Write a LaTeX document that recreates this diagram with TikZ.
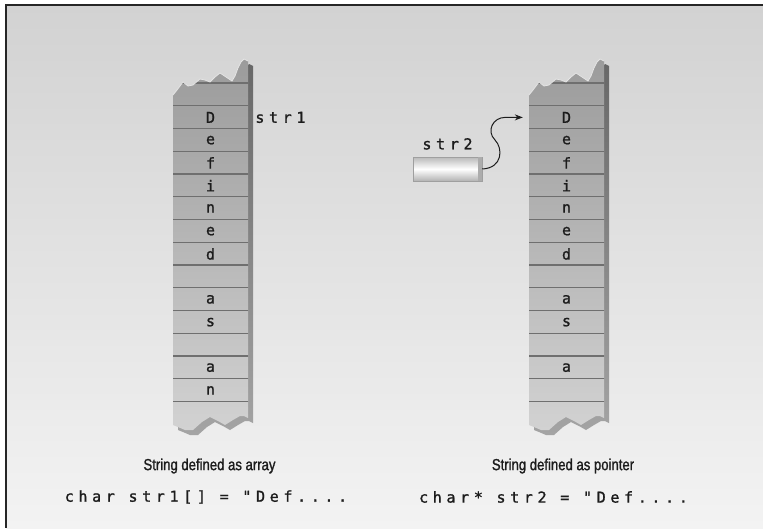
\documentclass[tikz,border=0pt]{standalone}
\usepackage{fontspec}
\setmainfont{Liberation Sans}
\newfontfamily\cellfont[LetterSpace=31, FakeBold=1.2]{DejaVu Sans Mono}
\newfontfamily\capfont[FakeStretch=0.82, FakeBold=1.3]{Liberation Sans}
\usetikzlibrary{arrows.meta, positioning}

\definecolor{bgtop}{HTML}{D2D2D2}
\definecolor{bgbot}{HTML}{F3F3F3}
\definecolor{celltop}{HTML}{9B9B9B}
\definecolor{cellbot}{HTML}{D2D2D2}
\definecolor{rowgray}{HTML}{6F6F6F}
\definecolor{sidetop}{HTML}{686868}
\definecolor{sidebot}{HTML}{A4A4A4}
\definecolor{inkgray}{HTML}{1C1C1C}

\newcommand{\torntop}{(173,95) -- (177,90) -- (183,82) -- (188,86) -- (193,85) -- (200,79) -- (205,80) -- (210,82) -- (215,77) -- (220,73) -- (226,77) -- (232,81) -- (235,76) -- (238,68) -- (241,62) -- (244,59) -- (248,61)}
\newcommand{\tornbody}{\torntop -- (248,418) -- (244,416) -- (240,416) -- (233,420) -- (225,425) -- (218,421) -- (210,417) -- (202,422) -- (193,430) -- (185,430) -- (178,427) -- (173,425) -- cycle}

\begin{document}
\begin{tikzpicture}[x=1pt, y=-1pt, node distance=22.75pt]
    \tikzstyle{cell} = [minimum width=75pt, minimum height=22.75pt, inner sep=0pt,
                        text=inkgray, font=\fontsize{15}{15}\cellfont]
    \tikzstyle{tag} = [inner sep=0pt, text=inkgray, font=\fontsize{15}{15}\cellfont]
    \tikzstyle{codeline} = [inner sep=0pt, text=inkgray, font=\fontsize{15}{15}\cellfont]
    \tikzstyle{captext} = [inner sep=0pt, text=inkgray, font=\fontsize{16}{16}\capfont]
    \tikzstyle{rowline} = [rowgray, line width=1.2pt]
    \tikzstyle{ptrbox} = [minimum width=69pt, minimum height=24pt, inner sep=0pt,
                          top color=gray!55, bottom color=gray!60, middle color=white,
                          draw=gray!75, line width=0.5pt]
    \tikzstyle{ptrarrow} = [-{Stealth[length=8pt, width=6pt]}, line width=1pt,
                            inkgray, shorten >=6pt]

    \useasboundingbox (0,0) rectangle (763,530);
    \shade[top color=bgtop, bottom color=bgbot] (6,5) rectangle (763,528);
    \draw[gray!30!black, line width=1.5pt] (763,5) -- (6,5) -- (6,528);

    \foreach \dx in {0,356} {
        \begin{scope}[xshift=\dx pt]
            \shade[top color=sidetop, bottom color=sidebot, shift={(5,5)}] \tornbody;
            \shade[top color=celltop, bottom color=cellbot] \tornbody;
            \begin{scope}
                \clip \tornbody;
                \foreach \k in {0,...,14}
                    \draw[rowline] (170,83+22.75*\k) -- (250,83+22.75*\k);
            \end{scope}
            \draw[white!80!gray, line width=0.8pt] \torntop;
        \end{scope}
    }

    \node (a1)  [cell] at (210.5,117.4) {D};
    \node (a2)  [cell, below of=a1]  {e};
    \node (a3)  [cell, below of=a2]  {f};
    \node (a4)  [cell, below of=a3]  {i};
    \node (a5)  [cell, below of=a4]  {n};
    \node (a6)  [cell, below of=a5]  {e};
    \node (a7)  [cell, below of=a6]  {d};
    \node (a8)  [cell, below of=a7]  {};
    \node (a9)  [cell, below of=a8]  {a};
    \node (a10) [cell, below of=a9]  {s};
    \node (a11) [cell, below of=a10] {};
    \node (a12) [cell, below of=a11] {a};
    \node (a13) [cell, below of=a12] {n};

    \node (b1)  [cell] at (566.5,117.4) {D};
    \node (b2)  [cell, below of=b1]  {e};
    \node (b3)  [cell, below of=b2]  {f};
    \node (b4)  [cell, below of=b3]  {i};
    \node (b5)  [cell, below of=b4]  {n};
    \node (b6)  [cell, below of=b5]  {e};
    \node (b7)  [cell, below of=b6]  {d};
    \node (b8)  [cell, below of=b7]  {};
    \node (b9)  [cell, below of=b8]  {a};
    \node (b10) [cell, below of=b9]  {s};
    \node (b11) [cell, below of=b10] {};
    \node (b12) [cell, below of=b11] {a};

    \node (str1) [tag, right=7pt of a1] {str1};
    \node (ptr)  [ptrbox] at (447.5,169) {};
    \fill[gray!65] ([xshift=-4pt]ptr.north east) rectangle (ptr.south east);
    \node (str2) [tag, above=7pt of ptr] {str2};

    \draw[ptrarrow] (ptr.east) .. controls (503,168) and (503,148) .. (495,140)
                    .. controls (486,131) and (493,117.4) .. (505,117.4) -- (b1.west);

    \node (cap1)  [captext] at (209.5,466) {String defined as array};
    \node (code1) [codeline] at (206,497) {char str1[] = "Def....};
    \node (cap2)  [captext] at (563,466) {String defined as pointer};
    \node (code2) [codeline] at (553.5,497) {char* str2 = "Def....};
\end{tikzpicture}
\end{document}
